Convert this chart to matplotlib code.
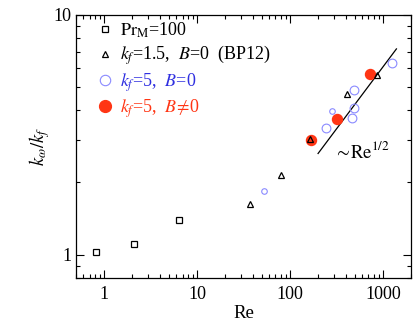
import matplotlib
matplotlib.use('Agg')
import matplotlib.pyplot as plt
from matplotlib.lines import Line2D
from matplotlib.ticker import LogLocator, FuncFormatter, NullFormatter

plt.rcParams['font.family'] = ['Liberation Serif', 'DejaVu Serif']
plt.rcParams['mathtext.fontset'] = 'stix'

# Pr_M = 100 runs
re_prm = [0.83, 2.12, 6.49]
k_prm = [1.02, 1.11, 1.39]

# k_f = 1.5, B = 0 (BP12)
re_bp12 = [36.9, 79.8, 164, 408, 866]
k_bp12 = [1.62, 2.15, 3.02, 4.66, 5.61]

# k_f = 5, B = 0 (big and small circles)
re_b0 = [246, 493, 493, 465, 1257]
k_b0 = [3.36, 4.86, 4.08, 3.72, 6.32]
re_b0_small = [52.7, 283]
k_b0_small = [1.84, 3.98]

# k_f = 5, B != 0
re_bn = [169, 321, 733]
k_bn = [3.0, 3.68, 5.67]

# ~Re^1/2 guide line end points
re_fit = [201, 1399]
k_fit = [2.64, 7.21]

blue_m = '#8a8aff'
blue_t = '#2f2fe0'
red = '#ff3514'

fig = plt.figure(figsize=(4.15, 3.23), dpi=100)
ax = fig.add_axes([0.183, 0.140, 0.807, 0.814])

ax.plot(re_fit, k_fit, color='k', lw=0.9)
ax.plot(re_bn, k_bn, 'o', ms=7.2, color=red, mec=red, ls='none')
ax.plot(re_b0, k_b0, 'o', ms=6.3, mfc='none', mec=blue_m, mew=0.8, ls='none')
ax.plot(re_b0_small, k_b0_small, 'o', ms=4.0, mfc='none', mec=blue_m, mew=0.8, ls='none')
ax.plot(re_prm, k_prm, 's', ms=4.3, mfc='none', mec='k', mew=0.9, ls='none')
ax.plot(re_bp12, k_bp12, '^', ms=4.3, mfc='none', mec='k', mew=0.9, ls='none')

ax.text(300, 2.68, r'$\sim\!\mathrm{Re}^{1/2}$', fontsize=13.5, va='center', ha='left')

ax.set_xscale('log')
ax.set_yscale('log')
ax.set_xlim(0.5, 2000)
ax.set_ylim(0.8, 10)

fmt = FuncFormatter(lambda v, p: '%g' % v)
ax.xaxis.set_major_formatter(fmt)
ax.yaxis.set_major_formatter(fmt)
ax.xaxis.set_minor_formatter(NullFormatter())
ax.yaxis.set_minor_formatter(NullFormatter())
ax.yaxis.set_minor_locator(LogLocator(base=10, subs=range(2, 10), numticks=20))
ax.xaxis.set_minor_locator(LogLocator(base=10, subs=range(2, 10), numticks=20))

ax.tick_params(which='both', direction='in', top=True, right=True, labelsize=13, width=0.8)
ax.tick_params(which='major', length=6)
ax.tick_params(which='minor', length=3)
ax.tick_params(axis='x', pad=6)
for s in ax.spines.values():
    s.set_linewidth(0.9)

ax.set_xlabel('Re', fontsize=13.5, labelpad=1)
ax.set_ylabel(r'$k_\omega/k_f$', fontsize=13.5, labelpad=1)

handles = [
    Line2D([], [], marker='s', ms=5, mfc='none', mec='k', mew=0.9, ls='none'),
    Line2D([], [], marker='^', ms=5, mfc='none', mec='k', mew=0.9, ls='none'),
    Line2D([], [], marker='o', ms=7.5, mfc='none', mec=blue_m, mew=0.8, ls='none'),
    Line2D([], [], marker='o', ms=8.5, color=red, ls='none'),
]
labels = [
    r'$\mathrm{Pr_M}$=100',
    r'$k_f$=1.5,  $B$=0  (BP12)',
    r'$k_f$=5,  $B$=0',
    r'$k_f$=5,  $B\!\neq\!$0',
]
ax.legend(handles, labels, loc='upper left', frameon=False, fontsize=13,
          labelcolor=['k', 'k', blue_t, red], handlelength=0.8, handletextpad=0.4,
          labelspacing=0.2, borderaxespad=0.0, bbox_to_anchor=(0.045, 1.005))

fig.savefig('out.png', dpi=100)
